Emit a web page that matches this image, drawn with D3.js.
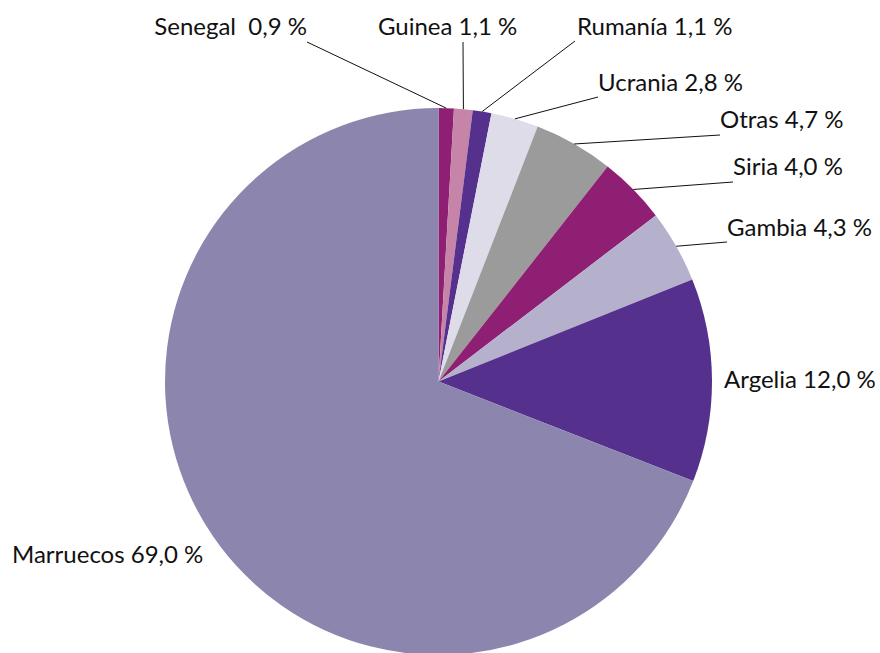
<!DOCTYPE html>
<html>
<head>
<meta charset="utf-8">
<script src="https://cdn.jsdelivr.net/npm/d3@7"></script>
<style>
  html, body { margin: 0; padding: 0; background: #fff; }
  svg text { font-family: Lato, "Open Sans", sans-serif; fill: #111; white-space: pre; }
</style>
</head>
<body>
<svg id="chart" width="880" height="653"></svg>
<script>
// Share of each origin country, in percent (clockwise from 12 o'clock)
const countries = ["Senegal", "Guinea", "Rumanía", "Ucrania", "Otras", "Siria", "Gambia", "Argelia", "Marruecos"];
const shares    = [0.9, 1.1, 1.1, 2.8, 4.7, 4.0, 4.3, 12.0, 69.0];
const colors    = ["#8e1f73", "#c684a9", "#55308d", "#dfdcea", "#9b9b9b", "#8e1f73", "#b5b1cc", "#55308d", "#8c86ae"];
// Text shown before the value (Senegal's label carries a double space)
const labelNames = ["Senegal ", "Guinea", "Rumanía", "Ucrania", "Otras", "Siria", "Gambia", "Argelia", "Marruecos"];

// Label placement: text anchor point (baseline) and the point where the leader line leaves the label
const labelLayout = [
  { x: 307, y: 35,  anchor: "end",   lead: [307, 42] },
  { x: 378, y: 35,  anchor: "start", lead: [463, 42] },
  { x: 577, y: 35,  anchor: "start", lead: [575, 41] },
  { x: 598, y: 91,  anchor: "start", lead: [598, 97] },
  { x: 720, y: 128, anchor: "start", lead: [720, 135] },
  { x: 733, y: 175, anchor: "start", lead: [733, 182] },
  { x: 727, y: 236, anchor: "start", lead: [727, 242] },
  { x: 724, y: 388, anchor: "start", lead: null },
  { x: 12,  y: 563, anchor: "start", lead: null }
];

const cx = 438.5, cy = 381.5, radius = 273.5;

const locale = d3.formatLocale({ decimal: ",", thousands: ".", grouping: [3], currency: ["", " €"] });
const fmt = locale.format(".1f");

const svg = d3.select("#chart");
const g = svg.append("g").attr("transform", `translate(${cx},${cy})`);

const data = countries.map((c, i) => ({ country: c, value: shares[i], color: colors[i], name: labelNames[i], layout: labelLayout[i] }));

const pie = d3.pie().sort(null).value(d => d.value).startAngle(0).endAngle(2 * Math.PI);
const arc = d3.arc().innerRadius(0).outerRadius(radius);
const arcs = pie(data);

g.selectAll("path.slice")
  .data(arcs)
  .join("path")
  .attr("class", "slice")
  .attr("d", arc)
  .attr("fill", d => d.data.color);

// Leader lines: from the label to the middle of the slice's outer edge
const leaders = arcs.filter(d => d.data.layout.lead);
svg.selectAll("line.leader")
  .data(leaders)
  .join("line")
  .attr("class", "leader")
  .attr("x1", d => d.data.layout.lead[0])
  .attr("y1", d => d.data.layout.lead[1])
  .attr("x2", d => cx + radius * Math.sin((d.startAngle + d.endAngle) / 2))
  .attr("y2", d => cy - radius * Math.cos((d.startAngle + d.endAngle) / 2))
  .attr("stroke", "#111")
  .attr("stroke-width", 1);

svg.selectAll("text.label")
  .data(arcs)
  .join("text")
  .attr("class", "label")
  .attr("x", d => d.data.layout.x)
  .attr("y", d => d.data.layout.y)
  .attr("text-anchor", d => d.data.layout.anchor)
  .attr("font-size", 24)
  .text(d => `${d.data.name} ${fmt(d.data.value)} %`);
</script>
</body>
</html>
